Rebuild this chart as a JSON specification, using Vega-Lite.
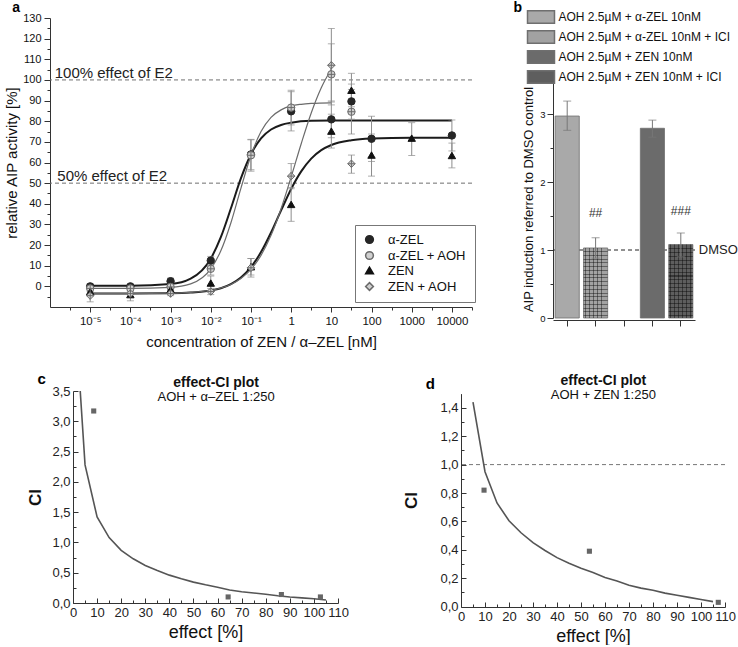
{
"$schema": "https://vega.github.io/schema/vega-lite/v6.json",
"padding": {"left": 4, "top": 0, "right": 0, "bottom": 0},
"config": {
  "font": "Liberation Sans",
  "view": {"stroke": null},
  "axis": {"grid": false, "domainColor": "#333", "tickColor": "#333", "labelColor": "#111", "titleColor": "#111", "titleFontWeight": "normal", "labelOverlap": false, "labelFlush": false, "domainWidth": 1, "tickWidth": 1}
},
"resolve": {"scale": {"color": "independent", "fill": "independent", "stroke": "independent", "shape": "independent"}, "legend": {"color": "independent", "fill": "independent", "stroke": "independent", "shape": "independent"}},
"datasets": {
  "curves": [
    {"s":"α-ZEL","c":1e-5,"v":0.3},{"s":"α-ZEL","c":1e-4,"v":0.34},{"s":"α-ZEL","c":0.001,"v":1.1},{"s":"α-ZEL","c":0.00316,"v":3.7},{"s":"α-ZEL","c":0.01,"v":13.4},{"s":"α-ZEL","c":0.0178,"v":23.8},{"s":"α-ZEL","c":0.0316,"v":37.7},{"s":"α-ZEL","c":0.0562,"v":52.3},{"s":"α-ZEL","c":0.1,"v":64.0},{"s":"α-ZEL","c":0.178,"v":71.7},{"s":"α-ZEL","c":0.316,"v":76.0},{"s":"α-ZEL","c":0.562,"v":78.2},{"s":"α-ZEL","c":1,"v":79.3},{"s":"α-ZEL","c":3.16,"v":80.2},{"s":"α-ZEL","c":10,"v":80.3},{"s":"α-ZEL","c":100,"v":80.3},{"s":"α-ZEL","c":10000,"v":80.3},
    {"s":"α-ZEL + AOH","c":1e-5,"v":-1.0},{"s":"α-ZEL + AOH","c":1e-4,"v":-1.0},{"s":"α-ZEL + AOH","c":0.001,"v":-0.5},{"s":"α-ZEL + AOH","c":0.00316,"v":1.2},{"s":"α-ZEL + AOH","c":0.01,"v":8.5},{"s":"α-ZEL + AOH","c":0.0178,"v":17.2},{"s":"α-ZEL + AOH","c":0.0316,"v":30.7},{"s":"α-ZEL + AOH","c":0.0562,"v":47.5},{"s":"α-ZEL + AOH","c":0.1,"v":63.4},{"s":"α-ZEL + AOH","c":0.178,"v":75.0},{"s":"α-ZEL + AOH","c":0.316,"v":81.9},{"s":"α-ZEL + AOH","c":0.562,"v":85.5},{"s":"α-ZEL + AOH","c":1,"v":87.4},{"s":"α-ZEL + AOH","c":1.78,"v":88.2},{"s":"α-ZEL + AOH","c":3.16,"v":88.6},{"s":"α-ZEL + AOH","c":10,"v":88.9},
    {"s":"ZEN","c":1e-5,"v":-3.5},{"s":"ZEN","c":1e-4,"v":-3.5},{"s":"ZEN","c":0.001,"v":-3.35},{"s":"ZEN","c":0.00316,"v":-3.0},{"s":"ZEN","c":0.01,"v":-2.0},{"s":"ZEN","c":0.0178,"v":-0.9},{"s":"ZEN","c":0.0316,"v":1.1},{"s":"ZEN","c":0.0562,"v":4.3},{"s":"ZEN","c":0.1,"v":9.3},{"s":"ZEN","c":0.178,"v":16.6},{"s":"ZEN","c":0.316,"v":26.1},{"s":"ZEN","c":0.562,"v":36.8},{"s":"ZEN","c":1,"v":47.2},{"s":"ZEN","c":1.78,"v":55.7},{"s":"ZEN","c":3.16,"v":61.9},{"s":"ZEN","c":5.62,"v":66.0},{"s":"ZEN","c":10,"v":68.5},{"s":"ZEN","c":31.6,"v":70.8},{"s":"ZEN","c":100,"v":71.6},{"s":"ZEN","c":1000,"v":72.0},{"s":"ZEN","c":10000,"v":72.0},
    {"s":"ZEN + AOH","c":1e-5,"v":-3.5},{"s":"ZEN + AOH","c":1e-4,"v":-3.5},{"s":"ZEN + AOH","c":0.001,"v":-3.3},{"s":"ZEN + AOH","c":0.00316,"v":-2.9},{"s":"ZEN + AOH","c":0.01,"v":-1.9},{"s":"ZEN + AOH","c":0.0178,"v":-0.8},{"s":"ZEN + AOH","c":0.0316,"v":0.9},{"s":"ZEN + AOH","c":0.0562,"v":3.8},{"s":"ZEN + AOH","c":0.1,"v":8.2},{"s":"ZEN + AOH","c":0.178,"v":15.0},{"s":"ZEN + AOH","c":0.316,"v":24.7},{"s":"ZEN + AOH","c":0.562,"v":37.6},{"s":"ZEN + AOH","c":1,"v":53.0},{"s":"ZEN + AOH","c":1.78,"v":69.1},{"s":"ZEN + AOH","c":3.16,"v":84.0},{"s":"ZEN + AOH","c":5.62,"v":96.2},{"s":"ZEN + AOH","c":10,"v":105.3}
  ],
  "pts": [
    {"s":"α-ZEL","c":1e-5,"v":0,"lo":-1.2,"hi":1.2},{"s":"α-ZEL","c":1e-4,"v":0,"lo":-1,"hi":1},{"s":"α-ZEL","c":0.001,"v":2.5,"lo":1,"hi":4},{"s":"α-ZEL","c":0.01,"v":12.5,"lo":10.5,"hi":14.5},{"s":"α-ZEL","c":0.1,"v":63.9,"lo":56.5,"hi":71},{"s":"α-ZEL","c":1,"v":84.8,"lo":75.3,"hi":94.3},{"s":"α-ZEL","c":10,"v":80.9,"lo":72,"hi":89.8},{"s":"α-ZEL","c":31.623,"v":89.6,"lo":81,"hi":98},{"s":"α-ZEL","c":100,"v":71.5,"lo":60.5,"hi":82.4},{"s":"α-ZEL","c":10000,"v":73.1,"lo":65.6,"hi":80.6},
    {"s":"α-ZEL + AOH","c":1e-5,"v":-1,"lo":-2.5,"hi":0.5},{"s":"α-ZEL + AOH","c":1e-4,"v":-1,"lo":-2.5,"hi":0.5},{"s":"α-ZEL + AOH","c":0.001,"v":-0.3,"lo":-2,"hi":1.4},{"s":"α-ZEL + AOH","c":0.01,"v":8.5,"lo":5.5,"hi":11.5},{"s":"α-ZEL + AOH","c":0.1,"v":63.5,"lo":55.8,"hi":71.2},{"s":"α-ZEL + AOH","c":1,"v":86.6,"lo":78.2,"hi":95},{"s":"α-ZEL + AOH","c":10,"v":102.7,"lo":87.9,"hi":117.5},{"s":"α-ZEL + AOH","c":31.623,"v":84.6,"lo":73.8,"hi":95.4},
    {"s":"ZEN","c":1e-5,"v":-2.5,"lo":-4.5,"hi":-0.5},{"s":"ZEN","c":1e-4,"v":-4,"lo":-7,"hi":-1},{"s":"ZEN","c":0.001,"v":-1.5,"lo":-3.5,"hi":0.5},{"s":"ZEN","c":0.01,"v":1.6,"lo":-2,"hi":5},{"s":"ZEN","c":0.1,"v":9.5,"lo":5.5,"hi":13.5},{"s":"ZEN","c":1,"v":39.7,"lo":31.5,"hi":47.9},{"s":"ZEN","c":10,"v":75.2,"lo":67,"hi":83.4},{"s":"ZEN","c":31.623,"v":95,"lo":87,"hi":103.2},{"s":"ZEN","c":100,"v":63.6,"lo":53.4,"hi":73.8},{"s":"ZEN","c":1000,"v":71.8,"lo":63.4,"hi":79.3},{"s":"ZEN","c":10000,"v":63.4,"lo":57.4,"hi":69.4},
    {"s":"ZEN + AOH","c":1e-5,"v":-4.5,"lo":-7.5,"hi":-1.5},{"s":"ZEN + AOH","c":1e-4,"v":-3.5,"lo":-5,"hi":-2},{"s":"ZEN + AOH","c":0.001,"v":-3.5,"lo":-4.5,"hi":-2.5},{"s":"ZEN + AOH","c":0.01,"v":-2.5,"lo":-4,"hi":-1},{"s":"ZEN + AOH","c":0.1,"v":9,"lo":4.5,"hi":13.5},{"s":"ZEN + AOH","c":1,"v":53.4,"lo":47.3,"hi":59.5},{"s":"ZEN + AOH","c":10,"v":107.1,"lo":89.3,"hi":124.9},{"s":"ZEN + AOH","c":31.623,"v":59.4,"lo":54.8,"hi":63.6}
  ],
  "bars": [
    {"grp":"1","name":"AOH 2.5µM + α-ZEL 10nM","val":2.97,"lo":2.76,"hi":3.19},
    {"grp":"2","name":"AOH 2.5µM + α-ZEL 10nM + ICI","val":1.03,"lo":0.88,"hi":1.18},
    {"grp":"4","name":"AOH 2.5µM + ZEN 10nM","val":2.79,"lo":2.66,"hi":2.91},
    {"grp":"5","name":"AOH 2.5µM + ZEN 10nM + ICI","val":1.08,"lo":0.90,"hi":1.25}
  ],
  "ciC": [
    {"e":3,"ci":3.5},{"e":5,"ci":2.28},{"e":10,"ci":1.42},{"e":15,"ci":1.08},{"e":20,"ci":0.87},{"e":25,"ci":0.73},{"e":30,"ci":0.62},{"e":35,"ci":0.535},{"e":40,"ci":0.46},{"e":45,"ci":0.4},{"e":50,"ci":0.345},{"e":55,"ci":0.3},{"e":60,"ci":0.26},{"e":65,"ci":0.215},{"e":70,"ci":0.185},{"e":75,"ci":0.165},{"e":80,"ci":0.145},{"e":85,"ci":0.12},{"e":90,"ci":0.1},{"e":95,"ci":0.085},{"e":100,"ci":0.07},{"e":105,"ci":0.05}
  ],
  "ptC": [{"e":8.6,"ci":3.17},{"e":64.4,"ci":0.10},{"e":86.5,"ci":0.14},{"e":102.7,"ci":0.10}],
  "ciD": [
    {"e":5,"ci":1.44},{"e":10,"ci":0.95},{"e":15,"ci":0.73},{"e":20,"ci":0.605},{"e":25,"ci":0.52},{"e":30,"ci":0.45},{"e":35,"ci":0.395},{"e":40,"ci":0.345},{"e":45,"ci":0.305},{"e":50,"ci":0.27},{"e":55,"ci":0.24},{"e":60,"ci":0.205},{"e":65,"ci":0.18},{"e":70,"ci":0.15},{"e":75,"ci":0.13},{"e":80,"ci":0.115},{"e":85,"ci":0.095},{"e":90,"ci":0.08},{"e":95,"ci":0.065},{"e":100,"ci":0.05},{"e":105,"ci":0.035}
  ],
  "ptD": [{"e":9.6,"ci":0.82},{"e":53.5,"ci":0.39},{"e":107.2,"ci":0.03}]
},
"align": "none",
"vconcat": [
 {"hconcat": [
  {
   "width": 422, "height": 289,
   "encoding": {
     "x": {"field": "c", "type": "quantitative", "scale": {"type": "log", "domain": [0.000001, 31622.8], "nice": false},
        "axis": {"title": "concentration of ZEN / α–ZEL [nM]", "titleFontSize": 15, "titlePadding": 8, "labelFontSize": 11.5, "labelPadding": 3, "labelOverlap": false,
          "values": [0.0000031623, 0.00001, 0.000031623, 0.0001, 0.00031623, 0.001, 0.0031623, 0.01, 0.031623, 0.1, 0.31623, 1, 3.1623, 10, 31.623, 100, 316.23, 1000, 3162.3, 10000, 31622],
          "labelExpr": "['','','10⁻⁵','','10⁻⁴','','10⁻³','','10⁻²','','10⁻¹','','1','','10','','100','','1000','','10000',''][round(2*log(datum.value)/LN10)+12]",
          "tickSize": {"condition": {"test": "round(2*log(datum.value)/LN10) % 2 == 0", "value": 5}, "value": 3}}},
     "y": {"field": "v", "type": "quantitative", "scale": {"domain": [-10, 130], "nice": false},
        "axis": {"title": "relative AIP activity [%]", "titleFontSize": 15, "titlePadding": 3, "labelFontSize": 11, "labelPadding": 3, "labelOverlap": false,
          "values": [-5,0,5,10,15,20,25,30,35,40,45,50,55,60,65,70,75,80,85,90,95,100,105,110,115,120,125,130],
          "labelExpr": "datum.value % 10 == 0 ? format(datum.value, 'd') : ''",
          "tickSize": {"condition": {"test": "datum.value % 10 == 0", "value": 6}, "value": 3}}}
   },
   "layer": [
    {"data": {"values": [{"v": 100}, {"v": 50}]},
     "mark": {"type": "rule", "strokeDash": [4, 3], "color": "#6f6f6f", "strokeWidth": 1},
     "encoding": {"x": null, "y": {"field": "v", "type": "quantitative"}}},
    {"data": {"name": "curves"},
     "transform": [{"filter": "datum.s == 'α-ZEL' || datum.s == 'ZEN'"}],
     "mark": {"type": "line", "interpolate": "monotone", "color": "#1b1b1b", "strokeWidth": 2},
     "encoding": {"detail": {"field": "s", "type": "nominal"}}},
    {"data": {"name": "curves"},
     "transform": [{"filter": "datum.s == 'α-ZEL + AOH' || datum.s == 'ZEN + AOH'"}],
     "mark": {"type": "line", "interpolate": "monotone", "color": "#6b6b6b", "strokeWidth": 1.2},
     "encoding": {"detail": {"field": "s", "type": "nominal"}}},
    {"data": {"name": "pts"},
     "mark": {"type": "rule", "color": "#8c8c8c", "strokeWidth": 1},
     "encoding": {"y": {"field": "lo", "type": "quantitative"}, "y2": {"field": "hi"}}},
    {"data": {"name": "pts"},
     "mark": {"type": "tick", "orient": "horizontal", "size": 7, "thickness": 1, "color": "#8c8c8c"},
     "encoding": {"y": {"field": "lo", "type": "quantitative"}}},
    {"data": {"name": "pts"},
     "mark": {"type": "tick", "orient": "horizontal", "size": 7, "thickness": 1, "color": "#8c8c8c"},
     "encoding": {"y": {"field": "hi", "type": "quantitative"}}},
    {"data": {"name": "pts"},
     "mark": {"type": "point", "filled": true, "size": 55, "strokeWidth": 1, "opacity": 1},
     "encoding": {
      "shape": {"field": "s", "type": "nominal", "scale": {"domain": ["α-ZEL", "α-ZEL + AOH", "ZEN", "ZEN + AOH"], "range": ["circle", "circle", "triangle-up", "diamond"]},
        "legend": {"title": null, "orient": "none", "legendX": 305, "legendY": 207, "strokeColor": "#777", "fillColor": "white", "padding": 8, "labelFontSize": 13, "rowPadding": 1, "symbolSize": 60, "labelOffset": 12, "labelColor": "#111"}},
      "fill": {"field": "s", "type": "nominal", "scale": {"domain": ["α-ZEL", "α-ZEL + AOH", "ZEN", "ZEN + AOH"], "range": ["#262626", "#d0d0d0", "#111111", "#d0d0d0"]}},
      "stroke": {"field": "s", "type": "nominal", "scale": {"domain": ["α-ZEL", "α-ZEL + AOH", "ZEN", "ZEN + AOH"], "range": ["#262626", "#6a6a6a", "#111111", "#6a6a6a"]}}
     }},
    {"data": {"name": "pts"},
     "transform": [{"filter": "datum.s == 'α-ZEL + AOH' || datum.s == 'ZEN + AOH'"}],
     "mark": {"type": "point", "shape": "M-1,0L1,0M0,-1L0,1", "filled": false, "size": 55, "strokeWidth": 1, "color": "#6a6a6a", "opacity": 1}},
    {"data": {"values": [{"c": 0.00000131, "v": 101.1, "t": "100% effect of E2"}, {"c": 0.00000152, "v": 51.0, "t": "50% effect of E2"}]},
     "mark": {"type": "text", "align": "left", "baseline": "alphabetic", "fontSize": 15, "color": "#222"},
     "encoding": {"text": {"field": "t"}}},
    {"data": {"values": [{"c": 0.000000143, "v": 133.1, "t": "a"}]},
     "mark": {"type": "text", "align": "center", "baseline": "alphabetic", "fontSize": 14, "fontWeight": "bold", "color": "#000"},
     "encoding": {"text": {"field": "t"}}}
   ]
  },
  {
   "width": 142, "height": 302,
   "data": {"name": "bars"},
   "layer": [
    {"data": {"values": [{"d": 1}]},
     "mark": {"type": "rule", "strokeDash": [4, 3], "color": "#222", "strokeWidth": 1},
     "encoding": {"y": {"field": "d", "type": "quantitative", "scale": {"domain": [0, 3.5], "range": [300, 62], "nice": false},
        "axis": {"title": "AIP induction referred to DMSO control", "titleFontSize": 13, "titlePadding": 4, "labelFontSize": 9.5, "labelPadding": 2, "labelOverlap": false,
          "values": [0, 0.5, 1, 1.5, 2, 2.5, 3, 3.5],
          "labelExpr": "datum.value % 1 == 0 ? format(datum.value, 'd') : ''",
          "tickSize": {"condition": {"test": "datum.value % 1 == 0", "value": 6}, "value": 3}}}}},
    {"mark": {"type": "bar", "stroke": "#6f6f6f", "strokeWidth": 0.8},
     "encoding": {
      "x": {"field": "grp", "type": "nominal", "scale": {"domain": ["1","2","3","4","5"], "paddingInner": 0.15, "paddingOuter": 0.075},
        "axis": {"title": null, "labels": false, "tickSize": 6}},
      "y": {"field": "val", "type": "quantitative", "scale": {"domain": [0, 3.5], "range": [300, 62], "nice": false},
        "axis": {"title": "AIP induction referred to DMSO control", "titleFontSize": 13, "titlePadding": 4, "labelFontSize": 9.5, "labelPadding": 2, "labelOverlap": false,
          "values": [0, 0.5, 1, 1.5, 2, 2.5, 3, 3.5],
          "labelExpr": "datum.value % 1 == 0 ? format(datum.value, 'd') : ''",
          "tickSize": {"condition": {"test": "datum.value % 1 == 0", "value": 6}, "value": 3}}},
      "color": {"field": "name", "type": "nominal", "scale": {"domain": ["AOH 2.5µM + α-ZEL 10nM", "AOH 2.5µM + α-ZEL 10nM + ICI", "AOH 2.5µM + ZEN 10nM", "AOH 2.5µM + ZEN 10nM + ICI"], "range": ["#a9a9a9", "#a2a2a2", "#6b6b6b", "#5e5e5e"]},
        "legend": {"title": null, "orient": "none", "legendX": -19.5, "legendY": -8.5, "symbolType": "M-2,-0.94H2V0.94H-2Z", "symbolSize": 182, "labelFontSize": 12, "labelOffset": 10, "rowPadding": 1, "labelLimit": 400, "padding": 0, "labelColor": "#111",
          "encode": {"symbols": {"update": {"stroke": {"value": "#555"}, "strokeWidth": {"value": 1}, "opacity": {"value": 1}}}}}}
     }},
    {"transform": [{"filter": "datum.grp == '2' || datum.grp == '5'"}],
     "mark": {"type": "bar", "fill": {"gradient": "linear", "x1": 0, "y1": 0, "x2": 1, "y2": 0, "stops": [
       {"offset":0,"color":"rgba(0,0,0,0)"},{"offset":0.07,"color":"rgba(0,0,0,0)"},{"offset":0.07,"color":"rgba(0,0,0,0.4)"},{"offset":0.11,"color":"rgba(0,0,0,0.4)"},{"offset":0.11,"color":"rgba(0,0,0,0)"},
       {"offset":0.23,"color":"rgba(0,0,0,0)"},{"offset":0.23,"color":"rgba(0,0,0,0.4)"},{"offset":0.27,"color":"rgba(0,0,0,0.4)"},{"offset":0.27,"color":"rgba(0,0,0,0)"},
       {"offset":0.39,"color":"rgba(0,0,0,0)"},{"offset":0.39,"color":"rgba(0,0,0,0.4)"},{"offset":0.43,"color":"rgba(0,0,0,0.4)"},{"offset":0.43,"color":"rgba(0,0,0,0)"},
       {"offset":0.55,"color":"rgba(0,0,0,0)"},{"offset":0.55,"color":"rgba(0,0,0,0.4)"},{"offset":0.59,"color":"rgba(0,0,0,0.4)"},{"offset":0.59,"color":"rgba(0,0,0,0)"},
       {"offset":0.71,"color":"rgba(0,0,0,0)"},{"offset":0.71,"color":"rgba(0,0,0,0.4)"},{"offset":0.75,"color":"rgba(0,0,0,0.4)"},{"offset":0.75,"color":"rgba(0,0,0,0)"},
       {"offset":0.87,"color":"rgba(0,0,0,0)"},{"offset":0.87,"color":"rgba(0,0,0,0.4)"},{"offset":0.91,"color":"rgba(0,0,0,0.4)"},{"offset":0.91,"color":"rgba(0,0,0,0)"},
       {"offset":1,"color":"rgba(0,0,0,0)"}]}},
     "encoding": {"x": {"field": "grp", "type": "nominal"}, "y": {"field": "val", "type": "quantitative"}}},
    {"transform": [{"filter": "datum.grp == '2' || datum.grp == '5'"}],
     "mark": {"type": "bar", "fill": {"gradient": "linear", "x1": 0, "y1": 0, "x2": 0, "y2": 1, "stops": [
       {"offset":0,"color":"rgba(0,0,0,0)"},
       {"offset":0.043,"color":"rgba(0,0,0,0)"},{"offset":0.043,"color":"rgba(0,0,0,0.4)"},{"offset":0.057,"color":"rgba(0,0,0,0.4)"},{"offset":0.057,"color":"rgba(0,0,0,0)"},
       {"offset":0.097,"color":"rgba(0,0,0,0)"},{"offset":0.097,"color":"rgba(0,0,0,0.4)"},{"offset":0.111,"color":"rgba(0,0,0,0.4)"},{"offset":0.111,"color":"rgba(0,0,0,0)"},
       {"offset":0.151,"color":"rgba(0,0,0,0)"},{"offset":0.151,"color":"rgba(0,0,0,0.4)"},{"offset":0.165,"color":"rgba(0,0,0,0.4)"},{"offset":0.165,"color":"rgba(0,0,0,0)"},
       {"offset":0.205,"color":"rgba(0,0,0,0)"},{"offset":0.205,"color":"rgba(0,0,0,0.4)"},{"offset":0.219,"color":"rgba(0,0,0,0.4)"},{"offset":0.219,"color":"rgba(0,0,0,0)"},
       {"offset":0.259,"color":"rgba(0,0,0,0)"},{"offset":0.259,"color":"rgba(0,0,0,0.4)"},{"offset":0.273,"color":"rgba(0,0,0,0.4)"},{"offset":0.273,"color":"rgba(0,0,0,0)"},
       {"offset":0.313,"color":"rgba(0,0,0,0)"},{"offset":0.313,"color":"rgba(0,0,0,0.4)"},{"offset":0.327,"color":"rgba(0,0,0,0.4)"},{"offset":0.327,"color":"rgba(0,0,0,0)"},
       {"offset":0.367,"color":"rgba(0,0,0,0)"},{"offset":0.367,"color":"rgba(0,0,0,0.4)"},{"offset":0.381,"color":"rgba(0,0,0,0.4)"},{"offset":0.381,"color":"rgba(0,0,0,0)"},
       {"offset":0.421,"color":"rgba(0,0,0,0)"},{"offset":0.421,"color":"rgba(0,0,0,0.4)"},{"offset":0.435,"color":"rgba(0,0,0,0.4)"},{"offset":0.435,"color":"rgba(0,0,0,0)"},
       {"offset":0.475,"color":"rgba(0,0,0,0)"},{"offset":0.475,"color":"rgba(0,0,0,0.4)"},{"offset":0.489,"color":"rgba(0,0,0,0.4)"},{"offset":0.489,"color":"rgba(0,0,0,0)"},
       {"offset":0.529,"color":"rgba(0,0,0,0)"},{"offset":0.529,"color":"rgba(0,0,0,0.4)"},{"offset":0.543,"color":"rgba(0,0,0,0.4)"},{"offset":0.543,"color":"rgba(0,0,0,0)"},
       {"offset":0.583,"color":"rgba(0,0,0,0)"},{"offset":0.583,"color":"rgba(0,0,0,0.4)"},{"offset":0.597,"color":"rgba(0,0,0,0.4)"},{"offset":0.597,"color":"rgba(0,0,0,0)"},
       {"offset":0.637,"color":"rgba(0,0,0,0)"},{"offset":0.637,"color":"rgba(0,0,0,0.4)"},{"offset":0.651,"color":"rgba(0,0,0,0.4)"},{"offset":0.651,"color":"rgba(0,0,0,0)"},
       {"offset":0.691,"color":"rgba(0,0,0,0)"},{"offset":0.691,"color":"rgba(0,0,0,0.4)"},{"offset":0.705,"color":"rgba(0,0,0,0.4)"},{"offset":0.705,"color":"rgba(0,0,0,0)"},
       {"offset":0.745,"color":"rgba(0,0,0,0)"},{"offset":0.745,"color":"rgba(0,0,0,0.4)"},{"offset":0.759,"color":"rgba(0,0,0,0.4)"},{"offset":0.759,"color":"rgba(0,0,0,0)"},
       {"offset":0.799,"color":"rgba(0,0,0,0)"},{"offset":0.799,"color":"rgba(0,0,0,0.4)"},{"offset":0.813,"color":"rgba(0,0,0,0.4)"},{"offset":0.813,"color":"rgba(0,0,0,0)"},
       {"offset":0.853,"color":"rgba(0,0,0,0)"},{"offset":0.853,"color":"rgba(0,0,0,0.4)"},{"offset":0.867,"color":"rgba(0,0,0,0.4)"},{"offset":0.867,"color":"rgba(0,0,0,0)"},
       {"offset":0.907,"color":"rgba(0,0,0,0)"},{"offset":0.907,"color":"rgba(0,0,0,0.4)"},{"offset":0.921,"color":"rgba(0,0,0,0.4)"},{"offset":0.921,"color":"rgba(0,0,0,0)"},
       {"offset":0.961,"color":"rgba(0,0,0,0)"},{"offset":0.961,"color":"rgba(0,0,0,0.4)"},{"offset":0.975,"color":"rgba(0,0,0,0.4)"},{"offset":0.975,"color":"rgba(0,0,0,0)"},
       {"offset":1,"color":"rgba(0,0,0,0)"}]}},
     "encoding": {"x": {"field": "grp", "type": "nominal"}, "y": {"field": "val", "type": "quantitative"}}},
    {"mark": {"type": "rule", "color": "#777", "strokeWidth": 1},
     "encoding": {"x": {"field": "grp", "type": "nominal"}, "y": {"field": "lo", "type": "quantitative"}, "y2": {"field": "hi"}}},
    {"mark": {"type": "tick", "orient": "horizontal", "size": 8, "thickness": 1, "color": "#777"},
     "encoding": {"x": {"field": "grp", "type": "nominal"}, "y": {"field": "lo", "type": "quantitative"}}},
    {"mark": {"type": "tick", "orient": "horizontal", "size": 8, "thickness": 1, "color": "#777"},
     "encoding": {"x": {"field": "grp", "type": "nominal"}, "y": {"field": "hi", "type": "quantitative"}}},
    {"data": {"values": [{}]},
     "mark": {"type": "text", "text": "##", "fontSize": 12, "color": "#333", "baseline": "middle"},
     "encoding": {"x": {"datum": "2", "type": "nominal"}, "y": {"datum": 1.55, "type": "quantitative"}}},
    {"data": {"values": [{}]},
     "mark": {"type": "text", "text": "###", "fontSize": 12, "color": "#333", "baseline": "middle"},
     "encoding": {"x": {"datum": "5", "type": "nominal"}, "y": {"datum": 1.58, "type": "quantitative"}}},
    {"data": {"values": [{}]},
     "mark": {"type": "text", "text": "DMSO", "align": "left", "baseline": "middle", "dx": 18, "fontSize": 13, "color": "#222"},
     "encoding": {"x": {"datum": "5", "type": "nominal"}, "y": {"datum": 1, "type": "quantitative"}}},
    {"data": {"values": [{}]},
     "mark": {"type": "text", "text": "b", "align": "center", "baseline": "alphabetic", "dx": -49.5, "fontSize": 14, "fontWeight": "bold", "color": "#000"},
     "encoding": {"x": {"datum": "1", "type": "nominal"}, "y": {"datum": 4.507, "type": "quantitative"}}}
   ]
  }
 ], "spacing": 37,
 "resolve": {"scale": {"color": "independent", "fill": "independent", "stroke": "independent", "shape": "independent"}, "legend": {"color": "independent", "fill": "independent", "stroke": "independent", "shape": "independent"}}},
 {"hconcat": [
  {
   "width": 288, "height": 212,
   "encoding": {
     "x": {"field": "e", "type": "quantitative", "scale": {"domain": [0, 110], "range": [23, 288], "nice": false},
        "axis": {"title": "effect [%]", "titleFontSize": 18, "titlePadding": 2, "labelFontSize": 13, "labelPadding": 8, "labelColor": "#222", "labelOverlap": false,
          "values": [0,5,10,15,20,25,30,35,40,45,50,55,60,65,70,75,80,85,90,95,100,105,110],
          "labelExpr": "datum.value % 10 == 0 ? format(datum.value, 'd') : ''",
          "tickSize": {"condition": {"test": "datum.value % 10 == 0", "value": -5}, "value": -3}}},
     "y": {"field": "ci", "type": "quantitative", "scale": {"domain": [0, 3.5], "nice": false},
        "axis": {"title": "CI", "offset": -23, "titleFontSize": 17, "titleFontWeight": "bold", "titlePadding": 7, "labelFontSize": 13, "labelPadding": 8, "labelColor": "#222", "labelOverlap": false,
          "values": [0,0.25,0.5,0.75,1,1.25,1.5,1.75,2,2.25,2.5,2.75,3,3.25,3.5],
          "labelExpr": "(datum.value*2) % 1 == 0 ? replace(format(datum.value, '.1f'), '.', ',') : ''",
          "tickSize": {"condition": {"test": "(datum.value*2) % 1 == 0", "value": -5}, "value": -3}}}
   },
   "layer": [
    {"data": {"values": [{"ci": 1}]},
     "mark": {"type": "rule", "strokeDash": [2, 2], "color": "#999", "strokeWidth": 0.8},
     "encoding": {"x": {"datum": 0}, "x2": {"datum": 110}}},
    {"data": {"name": "ciC"},
     "mark": {"type": "line", "color": "#555", "strokeWidth": 1.6}},
    {"data": {"name": "ptC"},
     "mark": {"type": "point", "shape": "square", "filled": true, "size": 26, "color": "#666", "opacity": 1}},
    {"data": {"values": [{"e": 59.4, "ci": 3.561, "t": "effect-CI plot"}]},
     "mark": {"type": "text", "fontSize": 14, "fontWeight": "bold", "align": "center", "baseline": "alphabetic", "color": "#111"},
     "encoding": {"text": {"field": "t"}}},
    {"data": {"values": [{"e": 59.4, "ci": 3.33, "t": "AOH + α–ZEL 1:250"}]},
     "mark": {"type": "text", "fontSize": 13, "align": "center", "baseline": "alphabetic", "color": "#111"},
     "encoding": {"text": {"field": "t"}}},
    {"data": {"values": [{"e": -13, "ci": 3.61, "t": "c"}]},
     "mark": {"type": "text", "fontSize": 15, "fontWeight": "bold", "align": "center", "baseline": "alphabetic", "color": "#000"},
     "encoding": {"text": {"field": "t"}}}
   ]
  },
  {
   "width": 264, "height": 216,
   "encoding": {
     "x": {"field": "e", "type": "quantitative", "scale": {"domain": [0, 110], "nice": false},
        "axis": {"title": "effect [%]", "titleFontSize": 18, "titlePadding": 2, "labelFontSize": 13, "labelPadding": 8, "labelColor": "#222", "labelOverlap": false,
          "values": [0,5,10,15,20,25,30,35,40,45,50,55,60,65,70,75,80,85,90,95,100,105,110],
          "labelExpr": "datum.value % 10 == 0 ? format(datum.value, 'd') : ''",
          "tickSize": {"condition": {"test": "datum.value % 10 == 0", "value": -5}, "value": -3}}},
     "y": {"field": "ci", "type": "quantitative", "scale": {"domain": [0, 1.5], "range": [215.6, 2.6], "nice": false},
        "axis": {"title": "CI", "titleFontSize": 17, "titleFontWeight": "bold", "titlePadding": 19, "labelFontSize": 13, "labelPadding": 8, "labelColor": "#222", "labelOverlap": false,
          "values": [0,0.1,0.2,0.3,0.4,0.5,0.6,0.7,0.8,0.9,1,1.1,1.2,1.3,1.4],
          "labelExpr": "round(datum.value*10) % 2 == 0 ? replace(format(datum.value, '.1f'), '.', ',') : ''",
          "tickSize": {"condition": {"test": "round(datum.value*10) % 2 == 0", "value": -5}, "value": -3}}}
   },
   "layer": [
    {"data": {"values": [{"ci": 1}]},
     "mark": {"type": "rule", "strokeDash": [4, 3], "color": "#777", "strokeWidth": 1},
     "encoding": {"x": null}},
    {"data": {"name": "ciD"},
     "mark": {"type": "line", "color": "#555", "strokeWidth": 1.6}},
    {"data": {"name": "ptD"},
     "mark": {"type": "point", "shape": "square", "filled": true, "size": 26, "color": "#666", "opacity": 1}},
    {"data": {"values": [{"e": 59.3, "ci": 1.561, "t": "effect-CI plot"}]},
     "mark": {"type": "text", "fontSize": 14, "fontWeight": "bold", "align": "center", "baseline": "alphabetic", "color": "#111"},
     "encoding": {"text": {"field": "t"}}},
    {"data": {"values": [{"e": 59.3, "ci": 1.46, "t": "AOH + ZEN 1:250"}]},
     "mark": {"type": "text", "fontSize": 13, "align": "center", "baseline": "alphabetic", "color": "#111"},
     "encoding": {"text": {"field": "t"}}},
    {"data": {"values": [{"e": -12.8, "ci": 1.532, "t": "d"}]},
     "mark": {"type": "text", "fontSize": 15, "fontWeight": "bold", "align": "center", "baseline": "alphabetic", "color": "#000"},
     "encoding": {"text": {"field": "t"}}}
   ]
  }
 ], "spacing": 53}
],
"spacing": 22
}
